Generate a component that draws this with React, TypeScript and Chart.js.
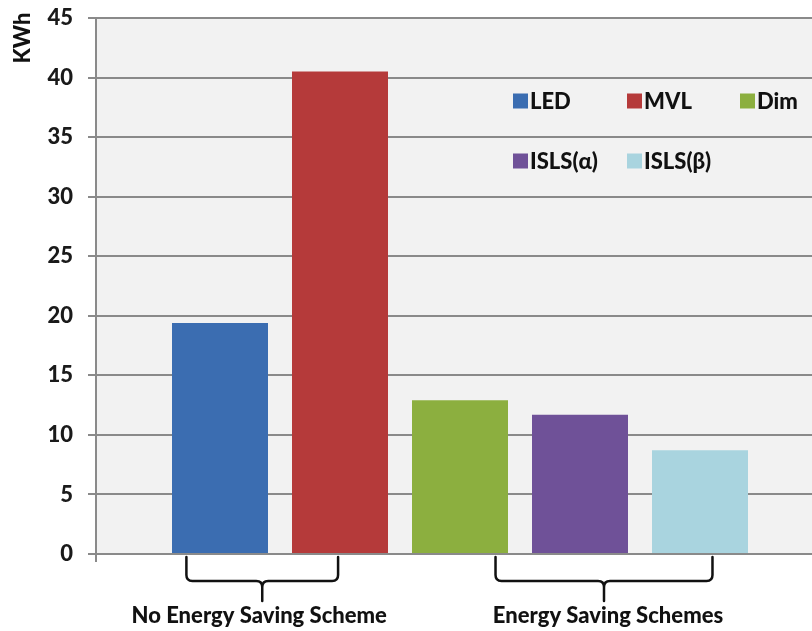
import React, { useEffect, useRef } from "react";
import { Chart, registerables } from "chart.js";

Chart.register(...registerables);

// Energy use per lighting scheme
const groupLabels = [""];
const seriesNames = ["LED", "MVL", "Dim", "ISLS(α)", "ISLS(β)"];
const seriesValues = [19.4, 40.5, 12.9, 11.7, 8.7];
const seriesColors = ["#3b6db1", "#b53a3a", "#8caf3f", "#6f5198", "#a9d4df"];
const yTicks = [0, 5, 10, 15, 20, 25, 30, 35, 40, 45];
const yTitle = "KWh";
const schemeLabels = ["No Energy Saving Scheme", "Energy Saving Schemes"];

const FONT = "Lato, 'Open Sans', sans-serif";
const WEIGHT = "900";
const GRID = "#8a8a8a";

function drawBrace(ctx: CanvasRenderingContext2D, x1: number, x2: number, top: number, mid: number, tip: number) {
  const r = 6;
  const cx = (x1 + x2) / 2;
  ctx.beginPath();
  ctx.moveTo(x1, top);
  ctx.lineTo(x1, mid - r);
  ctx.quadraticCurveTo(x1, mid, x1 + r, mid);
  ctx.lineTo(cx - r, mid);
  ctx.quadraticCurveTo(cx, mid, cx, mid + r);
  ctx.lineTo(cx, tip);
  ctx.moveTo(cx, mid + r);
  ctx.quadraticCurveTo(cx, mid, cx + r, mid);
  ctx.lineTo(x2 - r, mid);
  ctx.quadraticCurveTo(x2, mid, x2, mid - r);
  ctx.lineTo(x2, top);
  ctx.stroke();
}

const decorPlugin = {
  id: "decor",
  beforeDraw(chart: any) {
    const { ctx, chartArea } = chart;
    ctx.save();
    ctx.fillStyle = "#f2f2f2";
    ctx.fillRect(chartArea.left, chartArea.top, chartArea.right - chartArea.left, chartArea.bottom - chartArea.top);
    ctx.restore();
  },
  afterDraw(chart: any) {
    const { ctx } = chart;
    ctx.save();

    // axis title, rotated
    ctx.fillStyle = "#111";
    ctx.font = `${WEIGHT} 22px ${FONT}`;
    ctx.translate(23, 38);
    ctx.rotate(-Math.PI / 2);
    ctx.textAlign = "center";
    ctx.textBaseline = "middle";
    ctx.fillText(yTitle, 0, 0);
    ctx.setTransform(1, 0, 0, 1, 0, 0);

    // legend inside the plot
    const cols = [513, 627, 740];
    const rows = [100.5, 160.5];
    ctx.font = `${WEIGHT} 22px ${FONT}`;
    ctx.textAlign = "left";
    ctx.textBaseline = "middle";
    seriesNames.forEach((name, i) => {
      const x = cols[i % 3];
      const y = rows[Math.floor(i / 3)];
      ctx.fillStyle = seriesColors[i];
      ctx.fillRect(x, y - 7, 15, 15);
      ctx.fillStyle = "#111";
      ctx.fillText(name, x + 17, y + 1);
    });

    // group braces under the axis
    const bars = chart.data.datasets.map((_: any, i: number) => chart.getDatasetMeta(i).data[0]);
    const w = bars[0].width;
    const spans = [
      [bars[0].x - 0.35 * w, bars[1].x - 0.02 * w],
      [bars[2].x + 0.37 * w, bars[4].x + 0.13 * w],
    ];
    ctx.strokeStyle = "#111";
    ctx.lineWidth = 2.5;
    ctx.lineCap = "round";
    spans.forEach(([a, b], i) => {
      drawBrace(ctx, a, b, 557, 581, 601);
      ctx.fillStyle = "#111";
      ctx.font = `${WEIGHT} 22px ${FONT}`;
      ctx.textAlign = "center";
      ctx.textBaseline = "alphabetic";
      ctx.fillText(schemeLabels[i], (a + b) / 2 - (i === 0 ? 3 : -4), 623);
    });
    ctx.restore();
  },
};

export default function App() {
  const ref = useRef<HTMLCanvasElement>(null);

  useEffect(() => {
    if (!ref.current) return;
    const chart = new Chart(ref.current, {
      type: "bar",
      data: {
        labels: groupLabels,
        datasets: seriesNames.map((name, i) => ({
          label: name,
          data: [seriesValues[i]],
          backgroundColor: seriesColors[i],
          borderWidth: 0,
          barPercentage: 0.8,
          categoryPercentage: 600 / 728,
        })),
      },
      options: {
        responsive: false,
        animation: false,
        layout: { padding: { top: 18, right: 16, bottom: 0, left: 0 } },
        plugins: {
          legend: { display: false },
          tooltip: { enabled: false },
          title: { display: false },
        },
        scales: {
          x: {
            ticks: { display: false },
            grid: {
              drawOnChartArea: false,
              drawTicks: true,
              tickLength: 8,
              color: GRID,
              lineWidth: 2,
            },
            border: { display: true, color: GRID, width: 2 },
            afterFit: (s: any) => {
              s.height = 77;
              s.paddingLeft = 0;
              s.paddingRight = 0;
            },
          },
          y: {
            min: 0,
            max: 45,
            afterBuildTicks: (s: any) => {
              s.ticks = yTicks.map((v) => ({ value: v }));
            },
            ticks: {
              padding: 15,
              color: "#1a1a1a",
              font: { family: FONT, size: 22, weight: WEIGHT },
            },
            grid: {
              color: GRID,
              lineWidth: 2,
              tickLength: 8,
            },
            border: { display: true, color: GRID, width: 2 },
            afterFit: (s: any) => {
              s.width = 96;
              s.paddingTop = 0;
              s.paddingBottom = 0;
            },
          },
        },
      },
      plugins: [decorPlugin],
    });
    return () => chart.destroy();
  }, []);

  return (
    <div style={{ position: "absolute", left: 0, top: 0, width: 812, height: 631, overflow: "hidden", background: "#fff" }}>
      <canvas ref={ref} width={840} height={631} style={{ display: "block" }} />
    </div>
  );
}
